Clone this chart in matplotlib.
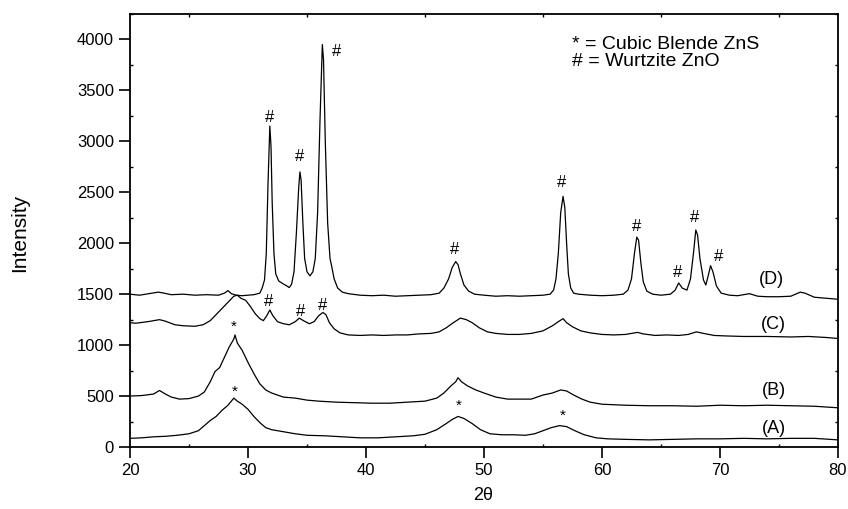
# XRD patterns of samples A-D (ZnS / ZnO phases)
import matplotlib
matplotlib.use("Agg")
import matplotlib.pyplot as plt
from matplotlib.ticker import MultipleLocator

plt.rcParams['font.family'] = ['Liberation Sans', 'DejaVu Sans']

# Curve (D)
d_x = [20.0, 20.8, 21.6, 22.4, 22.8, 23.5, 24.5, 25.5, 26.5, 27.5, 28.0, 28.3, 28.6, 29.0,
       29.5, 30.0, 30.5, 31.0, 31.2, 31.4, 31.55, 31.7, 31.85, 31.95, 32.05, 32.2, 32.35,
       32.6, 33.0, 33.3, 33.5, 33.7, 33.9, 34.1, 34.3, 34.4, 34.5, 34.65, 34.8, 35.0, 35.25,
       35.5, 35.7, 35.9, 36.1, 36.3, 36.4, 36.55, 36.75, 36.95, 37.1, 37.3, 37.6, 38.0,
       38.5, 39.5, 40.5, 41.5, 42.5, 43.5, 44.5, 45.5, 46.2, 46.6, 47.0, 47.3, 47.6, 47.8,
       48.0, 48.3, 48.7, 49.2, 50.0, 51.0, 52.0, 53.0, 54.0, 55.0, 55.6, 55.9, 56.1, 56.3,
       56.5, 56.7, 56.85, 57.0, 57.15, 57.35, 57.6, 58.0, 59.0, 60.0, 61.0, 61.8, 62.2,
       62.5, 62.75, 62.95, 63.1, 63.3, 63.5, 63.8, 64.3, 65.0, 65.8, 66.2, 66.5, 66.8,
       67.2, 67.5, 67.75, 67.95, 68.1, 68.3, 68.6, 68.8, 69.0, 69.2, 69.4, 69.7, 70.1,
       70.8, 71.5, 72.5, 73.2, 74.0, 75.0, 76.0, 76.8, 77.2, 78.0, 79.0, 80.0]
d_y = [1500, 1490, 1505, 1520, 1512, 1495, 1500, 1490, 1495, 1490, 1510, 1535, 1505, 1490,
       1485, 1490, 1495, 1510, 1560, 1640, 1900, 2600, 3150, 2950, 2400, 1900, 1700,
       1630, 1600, 1580, 1565, 1600, 1720, 2100, 2550, 2700, 2620, 2200, 1850, 1720, 1680,
       1720, 1850, 2300, 3200, 3950, 3800, 3000, 2200, 1850, 1770, 1650, 1560, 1520,
       1505, 1490, 1485, 1490, 1480, 1485, 1490, 1495, 1510, 1560, 1650, 1760, 1820, 1790,
       1700, 1590, 1530, 1500, 1490, 1480, 1485, 1480, 1485, 1490, 1500, 1540, 1650, 1900,
       2300, 2460, 2350, 2000, 1700, 1560, 1510, 1500, 1490, 1485, 1490, 1500, 1540,
       1650, 1900, 2060, 2030, 1800, 1620, 1530, 1500, 1490, 1500, 1540, 1610, 1560,
       1540, 1650, 1900, 2130, 2080, 1850, 1640, 1590, 1680, 1780, 1720, 1580, 1510,
       1490, 1485, 1505, 1480, 1475, 1475, 1480, 1520, 1510, 1470, 1460, 1450]

# Curve (C)
c_x = [20.0, 20.5, 21.5, 22.5, 23.0, 23.8, 24.5, 25.5, 26.2, 26.8, 27.3, 27.8, 28.3, 28.8,
       29.1, 29.4, 29.8, 30.2, 30.6, 31.0, 31.3, 31.6, 31.85, 32.1, 32.5, 33.0, 33.5, 34.0,
       34.35, 34.7, 35.2, 35.6, 36.0, 36.35, 36.6, 36.9, 37.3, 37.8, 38.5, 39.5, 40.5, 41.5,
       42.5, 43.5, 44.5, 45.5, 46.2, 46.8, 47.4, 48.0, 48.5, 49.0, 49.6, 50.3, 51.0, 52.0,
       53.0, 54.0, 55.0, 55.8, 56.3, 56.7, 57.0, 57.5, 58.2, 59.0, 60.0, 61.0, 62.0, 63.0,
       63.5, 64.5, 65.5, 66.5, 67.3, 68.0, 68.6, 69.5, 70.5, 72.0, 74.0, 76.0, 77.5, 79.0, 80.0]
c_y = [1220, 1215, 1230, 1250, 1235, 1200, 1190, 1185, 1200, 1240, 1300, 1360, 1420, 1480,
       1490, 1460, 1440, 1380, 1310, 1260, 1240, 1290, 1345, 1290, 1230, 1210, 1200, 1230,
       1265, 1240, 1210, 1230, 1290, 1320, 1300, 1220, 1160, 1120, 1100, 1095, 1100, 1095,
       1100, 1100, 1110, 1115, 1130, 1170, 1220, 1265, 1250, 1220, 1170, 1130, 1115, 1105,
       1105, 1115, 1140, 1190, 1230, 1260, 1220, 1180, 1140, 1120, 1105, 1100, 1105, 1125,
       1110, 1095, 1100, 1095, 1105, 1130, 1115, 1095, 1090, 1085, 1085, 1080, 1085, 1075, 1065]

# Curve (B)
b_x = [20.0, 21.0, 22.0, 22.5, 23.0, 23.5, 24.2, 25.0, 25.8, 26.3, 26.8, 27.2, 27.6, 28.0,
       28.4, 28.8, 28.9, 29.1, 29.5, 30.0, 30.5, 31.0, 31.5, 32.0, 33.0, 34.0, 35.0, 36.0,
       37.5, 39.0, 40.5, 42.0, 43.5, 45.0, 46.0, 46.6, 47.2, 47.6, 47.8, 48.1, 48.6, 49.3,
       50.0, 51.0, 52.0, 53.0, 54.0, 55.0, 55.8, 56.5, 57.0, 57.6, 58.3, 59.0, 60.0, 62.0,
       64.0, 66.0, 68.0, 70.0, 72.0, 74.0, 76.0, 78.0, 80.0]
b_y = [500, 505, 520, 555, 520, 490, 470, 475, 500, 540, 640, 740, 780, 880,
       980, 1060, 1100, 1020, 950, 830, 720, 620, 560, 530, 490, 480, 460, 450,
       440, 435, 430, 430, 440, 450, 480, 530, 600, 640, 680, 640, 600, 560,
       530, 490, 470, 470, 470, 510, 530, 560, 550, 510, 470, 440, 420, 410,
       405, 405, 400, 410, 405, 410, 405, 400, 385]

# Curve (A)
a_x = [20.0, 21.0, 22.0, 23.0, 24.0, 25.0, 25.8, 26.3, 26.8, 27.3, 27.8, 28.3, 28.8, 29.1,
       29.5, 30.0, 30.5, 31.0, 31.5, 32.0, 33.0, 34.0, 35.0, 36.5, 38.0, 39.5, 41.0, 42.5,
       44.0, 45.0, 46.0, 46.8, 47.3, 47.8, 48.3, 49.0, 49.7, 50.5, 51.5, 52.5, 53.5, 54.3,
       55.0, 55.7, 56.4, 57.0, 57.7, 58.5, 59.5, 60.5, 62.0, 64.0, 66.0, 68.0, 70.0, 72.0,
       74.0, 76.0, 78.0, 80.0]
a_y = [85, 90, 100, 105, 115, 130, 160, 210, 260, 300, 360, 410, 480, 450,
       420, 370, 300, 240, 190, 170, 150, 130, 115, 110, 100, 90, 90, 100,
       110, 125, 170, 230, 270, 300, 280, 230, 170, 130, 120, 120, 115, 130,
       160, 190, 210, 200, 160, 120, 90, 80, 75, 70, 75, 80, 80, 85,
       80, 85, 85, 70]

# peak marks: (x, y) of '#' (ZnO) and '*' (ZnS)
hash_x = [31.86, 34.35, 37.48, 47.5, 56.55, 62.94, 66.38, 67.88, 69.86, 31.72, 34.46, 36.33]
hash_y = [3234, 2850, 3883, 1943, 2592, 2166, 1713, 2248, 1865, 1428, 1330, 1386]
star_x = [28.76, 28.84, 47.9, 56.65]
star_y = [1177, 544, 403, 305]

labels = ["(A)", "(B)", "(C)", "(D)"]
label_x = [74.6, 74.6, 74.5, 74.4]
label_y = [184, 553, 1199, 1641]

fig = plt.figure(figsize=(8.48, 5.09), dpi=100)
ax = fig.add_axes([0.1533, 0.1218, 0.8349, 0.8507])

for xs, ys in [(a_x, a_y), (b_x, b_y), (c_x, c_y), (d_x, d_y)]:
    ax.plot(xs, ys, color='black', lw=0.9)

for x, y in zip(hash_x, hash_y):
    ax.text(x, y, "#", ha='center', va='center', fontsize=12)
for x, y in zip(star_x, star_y):
    ax.text(x, y, "*", ha='center', va='center', fontsize=11)
for lab, x, y in zip(labels, label_x, label_y):
    ax.text(x, y, lab, ha='center', va='center', fontsize=13)

# legend-like note in the top right
ax.text(57.5, 3903, "* = Cubic Blende ZnS", ha='left', va='baseline', fontsize=14)
ax.text(57.5, 3735, "# = Wurtzite ZnO", ha='left', va='baseline', fontsize=14)

ax.set_xlim(20, 80)
ax.set_ylim(0, 4250)
ax.xaxis.set_major_locator(MultipleLocator(10))
ax.xaxis.set_minor_locator(MultipleLocator(5))
ax.yaxis.set_major_locator(MultipleLocator(500))
ax.yaxis.set_minor_locator(MultipleLocator(250))
ax.tick_params(which='major', direction='out', length=8, width=1.2, labelsize=12)
ax.tick_params(which='minor', direction='in', length=2.5, width=1)
ax.tick_params(which='both', top=True, right=True)
ax.tick_params(axis='x', which='major', top=False)
ax.tick_params(axis='y', which='major', right=False)
for s in ax.spines.values():
    s.set_linewidth(1.3)

ax.set_xlabel("2θ", fontsize=13)
ax.set_ylabel("Intensity", fontsize=15)
ax.xaxis.set_label_coords(0.4986, -0.092)
ax.yaxis.set_label_coords(-0.142, 0.494)

fig.savefig("out.png", dpi=100)
